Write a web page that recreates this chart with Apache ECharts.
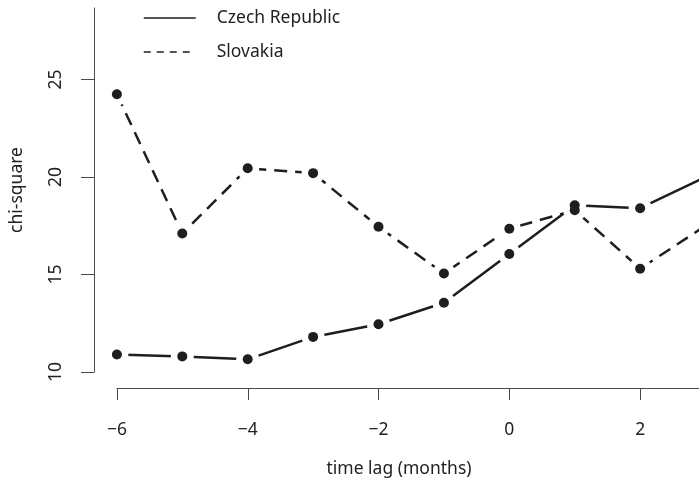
<!DOCTYPE html>
<html>
<head>
<meta charset="utf-8">
<script src="https://cdn.jsdelivr.net/npm/echarts@6/dist/echarts.min.js"></script>
<style>
html, body { margin: 0; padding: 0; background: #fff; }
#chart { width: 699px; height: 482px; }
</style>
</head>
<body>
<div id="chart"></div>
<script>
var lags = [-6, -5, -4, -3, -2, -1, 0, 1, 2, 3];
var czech = [10.9, 10.8, 10.65, 11.8, 12.45, 13.55, 16.05, 18.55, 18.4, 20.0];
var slovakia = [24.25, 17.1, 20.45, 20.2, 17.45, 15.05, 17.35, 18.3, 15.3, 17.5];
var xTicks = [-6, -4, -2, 0, 2];
var yTicks = [10, 15, 20, 25];

function pairs(ys) {
	return lags.map(function(x, i) { return [x, ys[i]]; });
}

var ink = '#1e1e1e';
var axisCol = '#4a4a4a';
var paper = '#ffffff';
var font = 'Noto Sans';
var fs = 17.5;

// disc in paper colour over the lines at each point, so the line stops short of it (R type="b")
function halo(ys) {
	return {
		type: 'scatter', data: pairs(ys), symbol: 'circle', symbolSize: 23,
		itemStyle: { color: paper, opacity: 1 }, silent: true, zlevel: 1, z: 1
	};
}
function dots(ys) {
	return {
		type: 'scatter', data: pairs(ys), symbol: 'circle', symbolSize: 10,
		itemStyle: { color: ink, opacity: 1 }, zlevel: 2, z: 1
	};
}

var myChart = echarts.init(document.getElementById('chart'));
var option = {
	animation: false,
	backgroundColor: paper,
	textStyle: { fontFamily: font },
	legend: {
		orient: 'vertical',
		left: 138,
		top: 4,
		itemWidth: 52,
		itemHeight: 14,
		itemGap: 16,
		textStyle: { fontSize: fs, color: '#222', fontFamily: font, padding: [0, 0, 0, 16] },
		itemStyle: { opacity: 0 },
		data: [
			{ name: 'Czech Republic', lineStyle: { type: 'solid', width: 1.5, color: ink } },
			{ name: 'Slovakia', lineStyle: { type: [7, 6], width: 1.5, color: ink } }
		]
	},
	grid: [
		{ left: 94, right: 0, top: 8, bottom: 110 },
		{ left: 117, right: 0, top: 380, bottom: 94 }
	],
	xAxis: [{
		gridIndex: 0,
		type: 'value',
		min: -6.35,
		max: 2.9,
		show: false
	}, {
		gridIndex: 1,
		type: 'value',
		min: -6,
		max: 2.9,
		position: 'bottom',
		name: 'time lag (months)',
		nameLocation: 'middle',
		nameGap: 72,
		nameTextStyle: { fontSize: fs, color: '#222', fontFamily: font, padding: [0, 18, 0, 0] },
		axisLine: { show: true, onZero: false, lineStyle: { color: axisCol, width: 1 } },
		axisTick: { show: true, length: 12, customValues: xTicks, lineStyle: { color: axisCol } },
		axisLabel: {
			customValues: xTicks, fontSize: fs, color: '#222', margin: 33,
			formatter: function(v) { return v < 0 ? '\u2212' + Math.abs(v) : String(v); }
		},
		splitLine: { show: false }
	}],
	yAxis: [{
		gridIndex: 0,
		type: 'value',
		min: 10,
		max: 28.67,
		name: 'chi-square',
		nameLocation: 'middle',
		nameRotate: 90,
		nameGap: 68,
		nameTextStyle: { fontSize: fs, color: '#222', fontFamily: font },
		axisLine: { show: true, onZero: false, lineStyle: { color: axisCol, width: 1 } },
		axisTick: { show: true, length: 13, customValues: yTicks, lineStyle: { color: axisCol } },
		axisLabel: { customValues: yTicks, rotate: 90, fontSize: fs, color: '#222', margin: 29 },
		splitLine: { show: false }
	}, {
		gridIndex: 1,
		type: 'value',
		min: 0,
		max: 1,
		show: false
	}],
	series: [{
		name: 'Czech Republic',
		type: 'line',
		data: pairs(czech),
		showSymbol: false,
		itemStyle: { color: ink },
		lineStyle: { color: ink, width: 2.5, type: 'solid' }
	}, {
		name: 'Slovakia',
		type: 'line',
		data: pairs(slovakia),
		showSymbol: false,
		itemStyle: { color: ink },
		lineStyle: { color: ink, width: 2.5, type: [13, 8] }
	},
	halo(czech), halo(slovakia), dots(czech), dots(slovakia)]
};
myChart.setOption(option);
</script>
</body>
</html>
